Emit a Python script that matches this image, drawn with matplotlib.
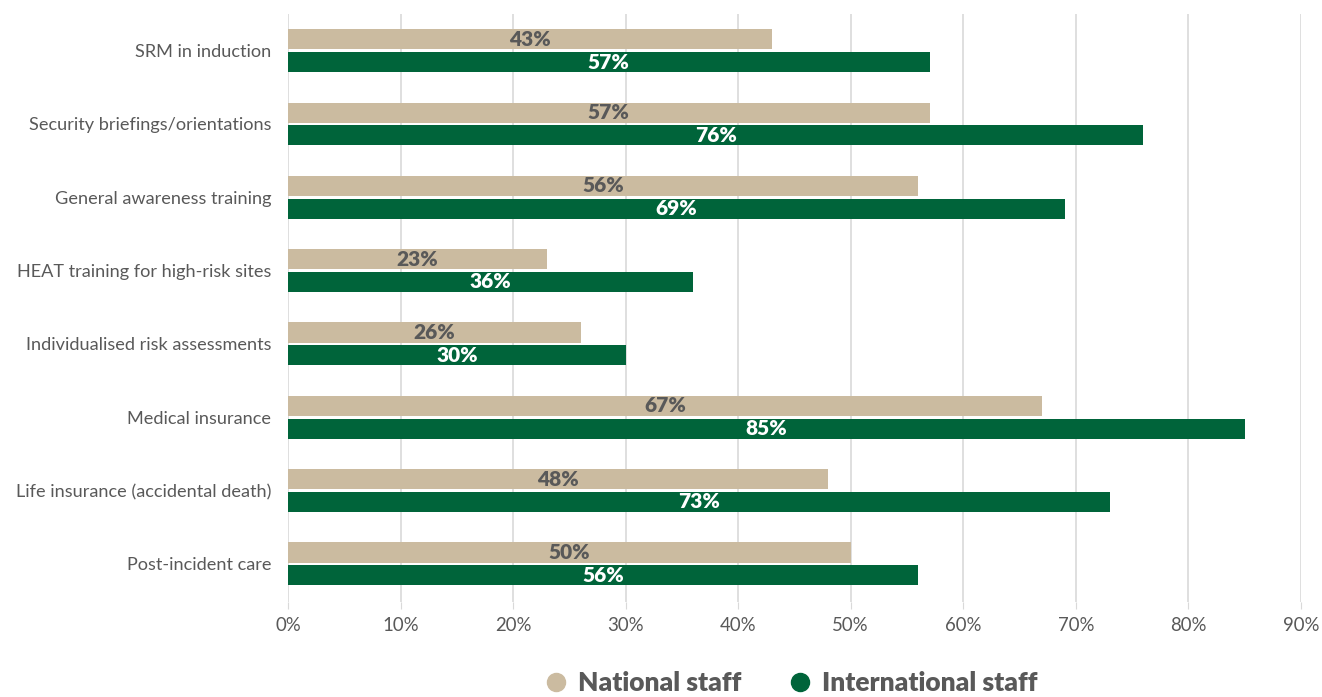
import numpy as np
import matplotlib.pyplot as plt

categories = ["SRM in induction", "Security briefings/orientations",
              "General awareness training", "HEAT training for high-risk sites",
              "Individualised risk assessments", "Medical insurance",
              "Life insurance (accidental death)", "Post-incident care"]
national = [43, 57, 56, 23, 26, 67, 48, 50]
international = [57, 76, 69, 36, 30, 85, 73, 56]

tan = "#CBBBA0"
green = "#00643A"
grey = "#595959"

plt.rcParams['font.family'] = ['Lato', 'DejaVu Sans']

fig = plt.figure(figsize=(13.22, 6.97), dpi=100)
ax = fig.add_axes([288/1322, 1 - 602/697, (1301-288)/1322, (602-14)/697])

y = np.arange(len(categories))
h = 0.275
off = 0.155
b1 = ax.barh(y - off, national, height=h, color=tan, zorder=2)
b2 = ax.barh(y + off, international, height=h, color=green, zorder=2)

for bar, v in zip(b1, national):
    ax.text(v / 2, bar.get_y() + bar.get_height() / 2, f"{v}%", ha="center", va="center",
            color=grey, fontsize=15, fontweight="heavy", zorder=3)
for bar, v in zip(b2, international):
    ax.text(v / 2, bar.get_y() + bar.get_height() / 2, f"{v}%", ha="center", va="center",
            color="white", fontsize=15, fontweight="heavy", zorder=3)

ax.set_xlim(0, 90)
ax.set_ylim(len(categories) - 0.5 + 0.02, -0.5)
ax.set_xticks(np.arange(0, 91, 10))
ax.set_xticklabels([f"{t}%" for t in range(0, 91, 10)])
ax.set_yticks(y)
ax.set_yticklabels(categories)
ax.tick_params(axis="x", colors="#d9d9d9", labelcolor=grey, labelsize=13.4, length=5, pad=6)
ax.tick_params(axis="y", length=0, labelcolor=grey, labelsize=13.1, pad=12)
ax.grid(axis="x", color="#d9d9d9", linewidth=1.2, zorder=0)
for s in ax.spines.values():
    s.set_visible(False)

handles = [plt.Line2D([], [], marker="o", linestyle="", markersize=13, color=tan),
           plt.Line2D([], [], marker="o", linestyle="", markersize=13, color=green)]
leg = fig.legend(handles, ["National staff", "International staff"], loc="center",
                 bbox_to_anchor=(787/1322, 1 - 683/697), ncol=2, frameon=False,
                 handletextpad=0.1, columnspacing=1.45, handlelength=1.5,
                 prop={"size": 19, "weight": "heavy"})
for t in leg.get_texts():
    t.set_color(grey)

fig.savefig("out.png", dpi=100)
